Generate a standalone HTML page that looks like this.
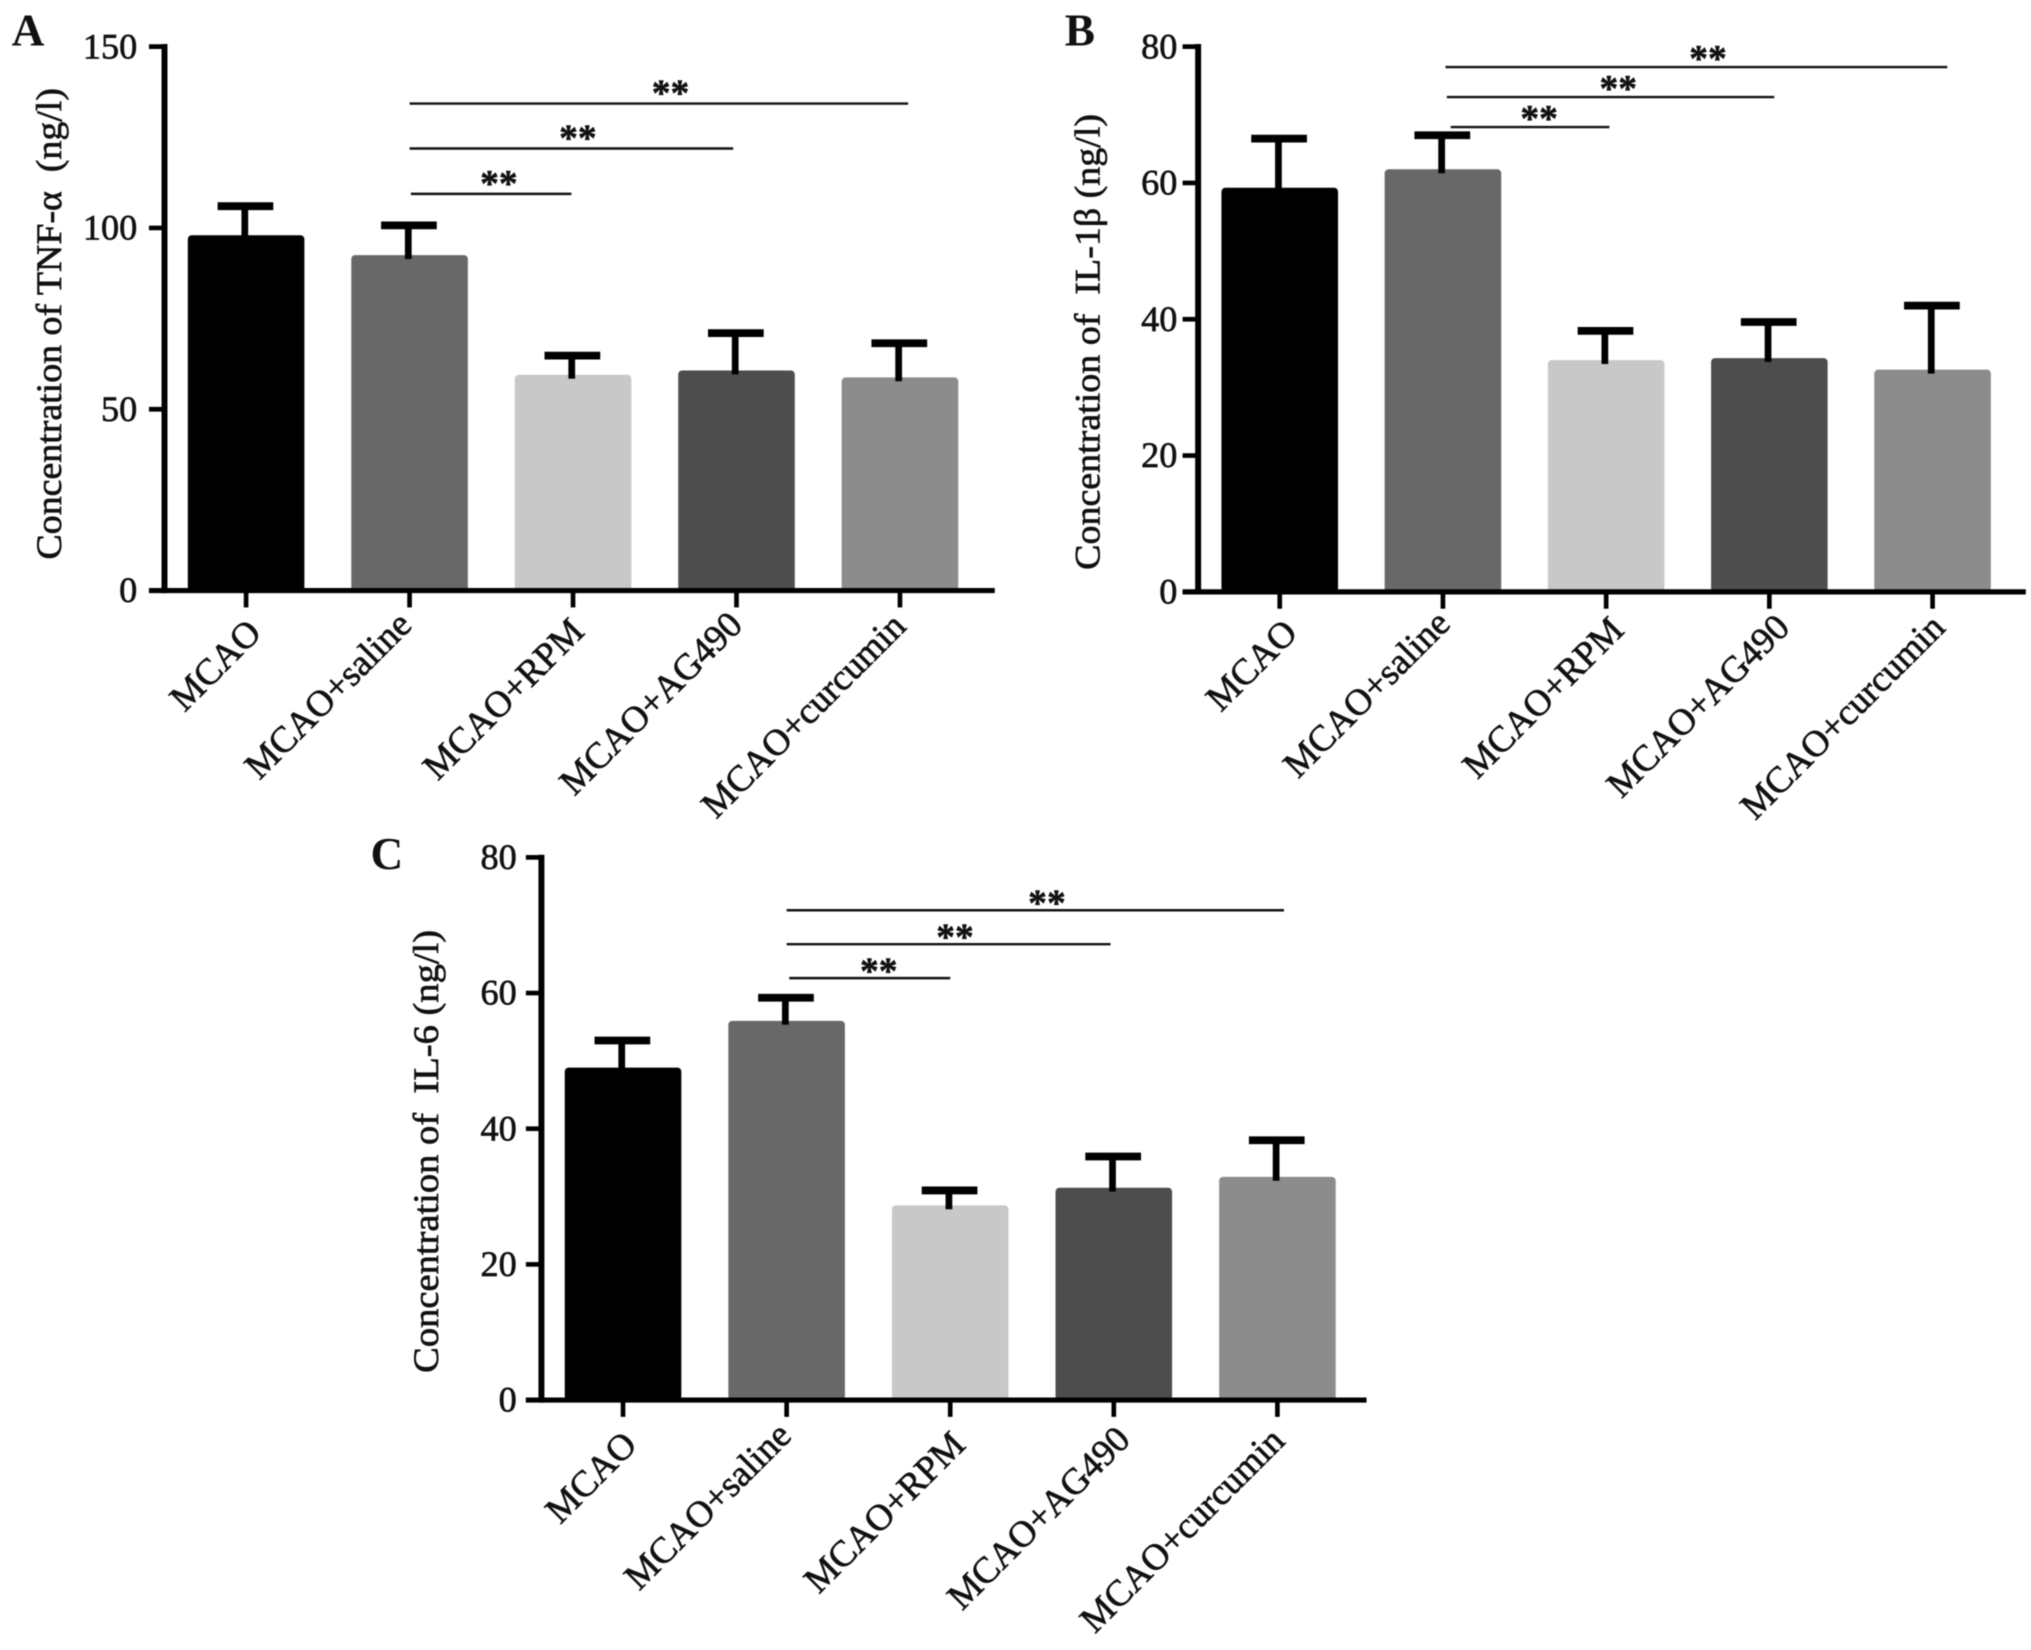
<!DOCTYPE html>
<html lang="en">
<head>
<meta charset="utf-8">
<title>Cytokine concentrations by treatment group</title>
<style>
html,body{margin:0;padding:0;background:#fff;width:2031px;height:1650px;overflow:hidden}
svg{display:block;filter:blur(0.5px)}
text{font-family:"Liberation Serif","DejaVu Serif",serif;fill:#111;white-space:pre}
</style>
</head>
<body>
<svg id="figure" xmlns="http://www.w3.org/2000/svg" width="2031" height="1650" viewBox="0 0 1568 1274" preserveAspectRatio="none"></svg>
<script>
const categories = ['MCAO', 'MCAO+saline', 'MCAO+RPM', 'MCAO+AG490', 'MCAO+curcumin'];
const barColors = ['#000000', '#686868', '#c8c8c8', '#4d4d4d', '#8c8c8c'];

const tnfTicks = [0, 50, 100, 150];
const tnfMeans = [98, 92.5, 59.5, 60.7, 58.8];
const tnfErrorTops = [106, 100.7, 64.8, 71, 68.2];
const tnfSigEnds = [1.99, 2.98, 4.05];
const tnfSigLevels = [109.4, 121.9, 134.3];

const il1Ticks = [0, 20, 40, 60, 80];
const il1Means = [59.3, 62, 34, 34.3, 32.6];
const il1ErrorTops = [66.5, 67, 38.3, 39.6, 42];
const il1SigEnds = [2.02, 3.03, 4.09];
const il1SigLevels = [68.2, 72.6, 77];

const il6Ticks = [0, 20, 40, 60, 80];
const il6Means = [49, 55.9, 28.7, 31.3, 32.9];
const il6ErrorTops = [53, 59.3, 30.9, 35.9, 38.3];
const il6SigEnds = [2.0, 2.98, 4.04];
const il6SigLevels = [62.2, 67.2, 72.2];

const svg = document.getElementById('figure');
const NS = 'http://www.w3.org/2000/svg';

function make(parent, tag, attrs, txt) {
  const e = document.createElementNS(NS, tag);
  for (const k in attrs) e.setAttribute(k, attrs[k]);
  if (txt !== undefined) e.textContent = txt;
  parent.appendChild(e);
  return e;
}

function drawPanel(p) {
  const g = make(svg, 'g', {});
  
  

  const yScale = v => p.y0 - (v / p.yMax) * (p.y0 - p.yTop);
  const xScale = i => p.x0 + i * p.step;

  const letter = make(g, 'text', {x: p.letterX, y: p.letterY, 'font-size': 35, 'font-weight': 'bold'}, p.letter);
  
  

  categories.forEach((c, i) => {
    const bar = make(g, 'rect', {x: xScale(i) - 45, y: yScale(p.means[i]), width: 90, height: p.y0 - yScale(p.means[i]), rx: 3, fill: barColors[i]});
    
    

    const stem = make(g, 'line', {x1: xScale(i) - 1, x2: xScale(i) - 1, y1: yScale(p.means[i]) + 3, y2: yScale(p.errorTops[i]), stroke: '#000', 'stroke-width': 5.2});
    
    

    const cap = make(g, 'line', {x1: xScale(i) - 22, x2: xScale(i) + 21, y1: yScale(p.errorTops[i]), y2: yScale(p.errorTops[i]), stroke: '#000', 'stroke-width': 6});
    
    

    const tick = make(g, 'line', {x1: xScale(i), x2: xScale(i), y1: p.y0, y2: p.y0 + 13, stroke: '#000', 'stroke-width': 3.6});
    
    

    const lx = xScale(i) + 9 + p.labelNudgeX[i];
    const ly = p.y0 + 24 + p.labelNudgeY[i];
    const label = make(g, 'text', {x: lx, y: ly, 'font-size': 28.5, 'text-anchor': 'end', stroke: '#111', 'stroke-width': 0.5, transform: 'rotate(-45 ' + lx + ' ' + ly + ')'}, c);
    
    
  });

  const yAxis = make(g, 'line', {x1: p.axisX, x2: p.axisX, y1: p.yTop - 2, y2: p.y0 + 2, stroke: '#000', 'stroke-width': 4.6});
  
  

  const xAxis = make(g, 'line', {x1: p.axisX - 12, x2: p.xEnd, y1: p.y0, y2: p.y0, stroke: '#000', 'stroke-width': 4});
  
  

  p.ticks.forEach(t => {
    const tk = make(g, 'line', {x1: p.axisX - 12, x2: p.axisX, y1: yScale(t), y2: yScale(t), stroke: '#000', 'stroke-width': 3.6});
    
    

    const tl = make(g, 'text', {x: p.axisX - p.tickGap, y: yScale(t) + 9, 'font-size': 28, 'text-anchor': 'end', stroke: '#111', 'stroke-width': 0.5}, String(t));
    
    
  });

  const title = make(g, 'text', {x: p.titleX, y: p.titleY, 'font-size': 28, 'text-anchor': 'middle', stroke: '#111', 'stroke-width': 0.5, textLength: p.titleLen, lengthAdjust: 'spacingAndGlyphs', transform: 'rotate(-90 ' + p.titleX + ' ' + p.titleY + ')'}, p.title);
  
  

  p.sigEnds.forEach((end, i) => {
    const y = yScale(p.sigLevels[i]);
    const a = xScale(1) + p.sigStarts[i];
    const b = xScale(end);
    const line = make(g, 'line', {x1: a, x2: b, y1: y, y2: y, stroke: '#111', 'stroke-width': 1.9});
    
    

    const star = make(g, 'text', {x: (a + b) / 2 + p.starShift[i], y: y + p.starDrop, 'font-size': 29, 'font-weight': 'bold', 'text-anchor': 'middle', stroke: '#111', 'stroke-width': 0.4}, '**');
    
    
  });
}

drawPanel({
  id: 'tnf', letter: 'A', letterX: 9, letterY: 35,
  title: 'Concentration of TNF-\u03b1  (ng/l)', titleX: 47, titleY: 250, titleLen: 364,
  ticks: tnfTicks, means: tnfMeans, errorTops: tnfErrorTops,
  sigEnds: tnfSigEnds, sigLevels: tnfSigLevels, sigStarts: [1, 0, 0], starShift: [6, 5, 9], starDrop: 1.5,
  labelNudgeX: [4, -6, 1, -3, -3], labelNudgeY: [10, 4, 9, 4, 5],
  axisX: 127, xEnd: 768, yTop: 36, y0: 456, yMax: 150, x0: 190, step: 126.2, tickGap: 21
});

drawPanel({
  id: 'il1b', letter: 'B', letterX: 822, letterY: 35,
  title: 'Concentration of  IL-1\u03b2 (ng/l)', titleX: 849, titleY: 264, titleLen: 352,
  ticks: il1Ticks, means: il1Means, errorTops: il1ErrorTops,
  sigEnds: il1SigEnds, sigLevels: il1SigLevels, sigStarts: [6, 3, 2], starShift: [7, 6, 9], starDrop: 3,
  labelNudgeX: [6, -2, 6, 8, 2], labelNudgeY: [9, 2, 7, 5, 5],
  axisX: 925, xEnd: 1564, yTop: 36, y0: 457, yMax: 80, x0: 988, step: 126, tickGap: 16
});

drawPanel({
  id: 'il6', letter: 'C', letterX: 286, letterY: 671,
  title: 'Concentration of  IL-6 (ng/l)', titleX: 338, titleY: 889, titleLen: 342,
  ticks: il6Ticks, means: il6Means, errorTops: il6ErrorTops,
  sigEnds: il6SigEnds, sigLevels: il6SigLevels, sigStarts: [2, 0, 0], starShift: [7, 5, 9], starDrop: 4,
  labelNudgeX: [3, -4, 4, 5, -2], labelNudgeY: [12, 5, 12, 8, 9],
  axisX: 418, xEnd: 1055, yTop: 662, y0: 1081, yMax: 80, x0: 481, step: 126.3, tickGap: 19
});
</script>
</body>
</html>
